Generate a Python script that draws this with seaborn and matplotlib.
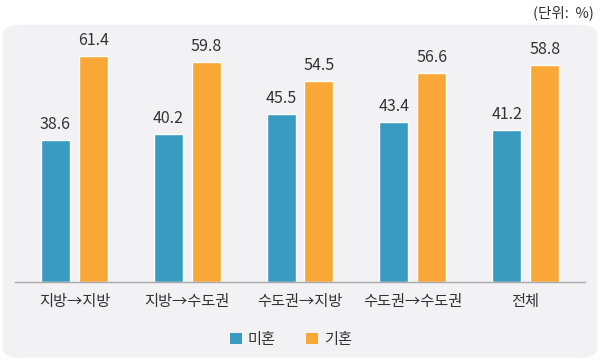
import matplotlib

matplotlib.use("Agg")
import matplotlib.pyplot as plt
import pandas as pd
import seaborn as sns
from matplotlib.patches import FancyBboxPatch, Patch

categories = ["지방→지방", "지방→수도권", "수도권→지방", "수도권→수도권", "전체"]
unmarried = [38.6, 40.2, 45.5, 43.4, 41.2]
married = [61.4, 59.8, 54.5, 56.6, 58.8]
series_names = ["미혼", "기혼"]
colors = ["#3a9bc1", "#f9a736"]

df = pd.DataFrame({
    "category": categories * 2,
    "value": unmarried + married,
    "group": [series_names[0]] * len(categories) + [series_names[1]] * len(categories),
})

sns.set_style("white")
plt.rcParams["font.family"] = ["Noto Sans CJK KR", "DejaVu Sans"]

fig = plt.figure(figsize=(6, 3.6), dpi=100)

# rounded background panel, kept behind the axes
bg = FancyBboxPatch((0.004, 0.006), 0.992, 0.925,
                    boxstyle="round,pad=0,rounding_size=0.03",
                    transform=fig.transFigure, facecolor="#f2f2f4",
                    edgecolor="none", zorder=-10)
fig.patches.append(bg)

ax = fig.add_axes([0.025, 0.2167, 0.95, 0.7167])
ax.set_facecolor("none")
ax.set_zorder(1)

sns.barplot(data=df, x="category", y="value", hue="group", order=categories,
            hue_order=series_names, palette=colors, saturation=1,
            width=0.672, gap=0.237, legend=False, ax=ax)

for cont in ax.containers:
    ax.bar_label(cont, fmt="%.1f", padding=5, fontsize=11.5, color="#333333")

ax.set_xlim(-0.526, 4.526)
ax.set_ylim(0, 70)
ax.set_xlabel("")
ax.set_ylabel("")
ax.set_yticks([])
ax.tick_params(axis="x", length=0, pad=8, labelsize=11, labelcolor="#333333")
for side in ["top", "left", "right"]:
    ax.spines[side].set_visible(False)
ax.spines["bottom"].set_color("#aaaaaa")
ax.spines["bottom"].set_linewidth(1)

handles = [Patch(facecolor=c, edgecolor="none") for c in colors]
fig.legend(handles, series_names, loc="center", bbox_to_anchor=(0.485, 0.058),
           ncol=2, frameon=False, fontsize=11, handlelength=0.75,
           handleheight=0.75, handletextpad=0.4, columnspacing=2.0,
           labelcolor="#333333")

fig.text(0.99, 0.965, "(단위:  %)", ha="right", va="center", fontsize=10.5,
         color="#333333")

fig.savefig("out.png", dpi=100)
